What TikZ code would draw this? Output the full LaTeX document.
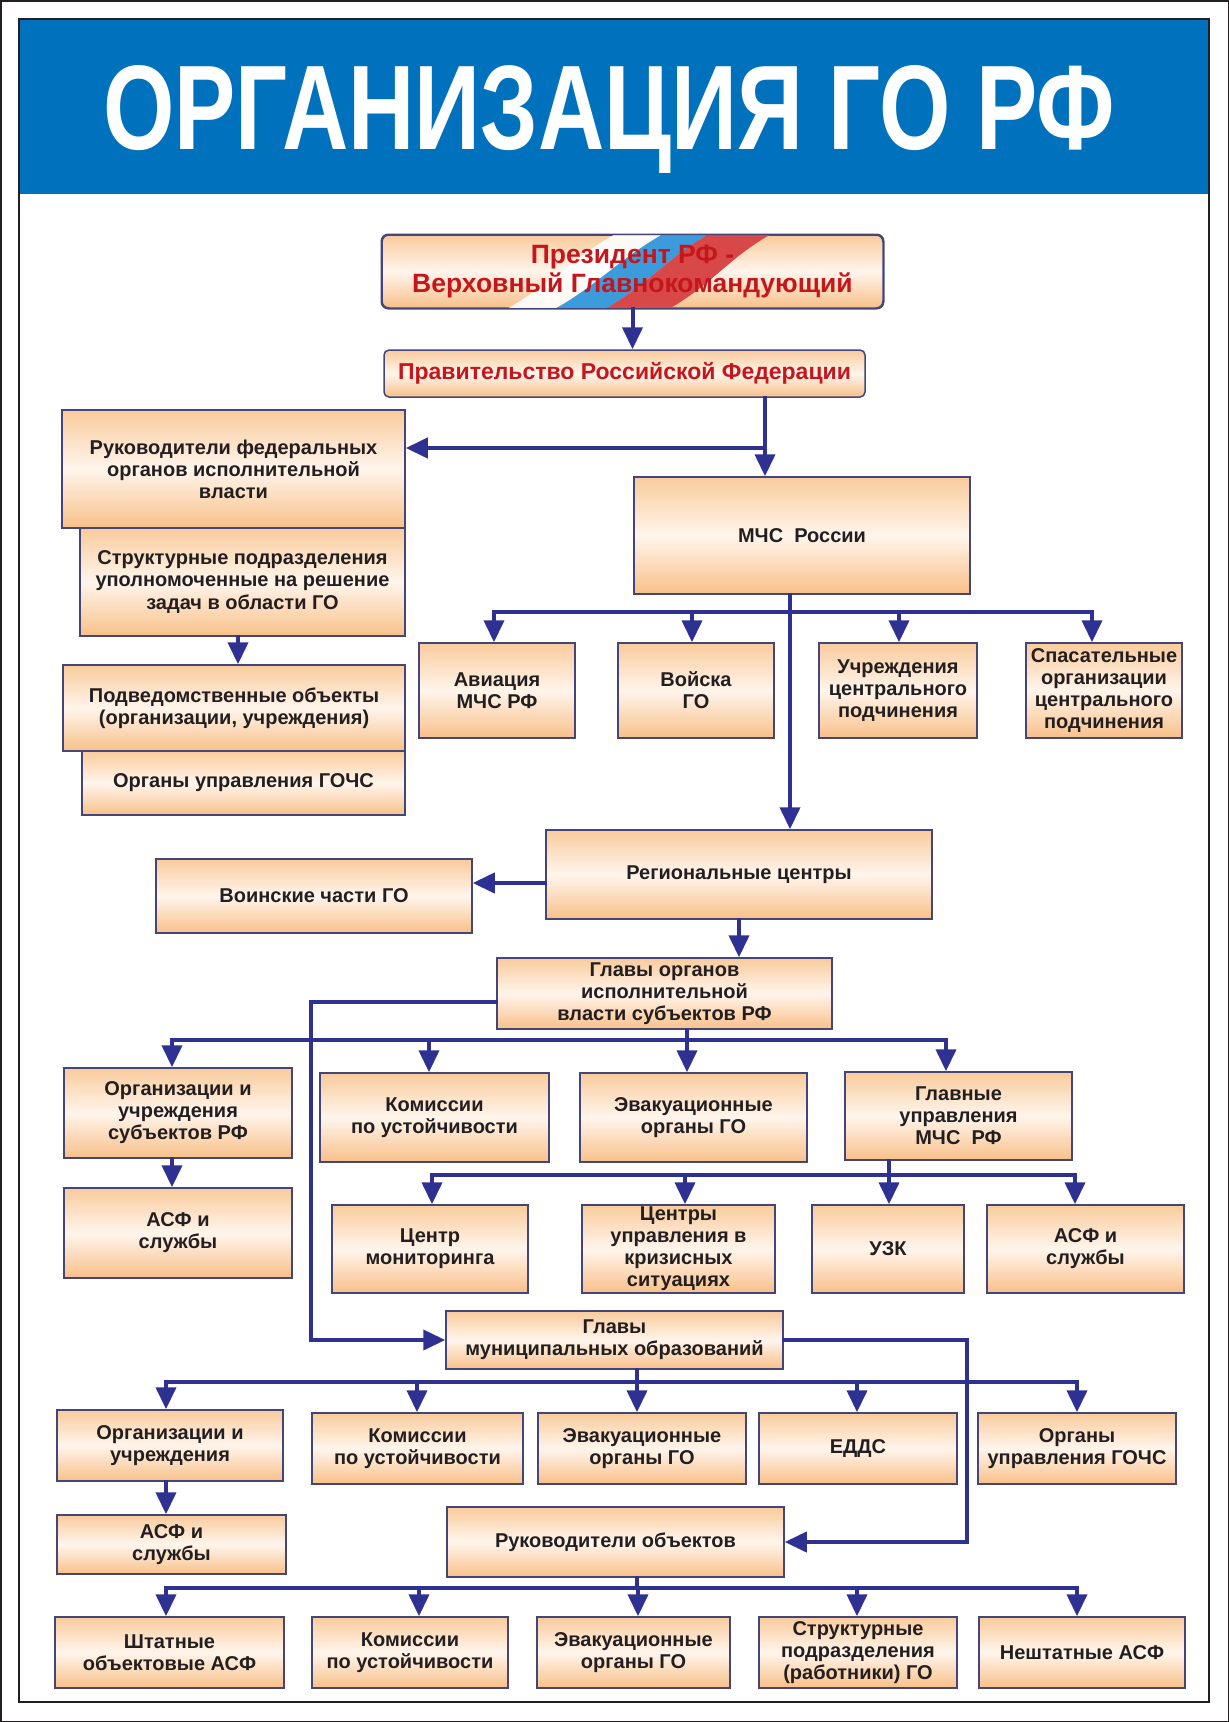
\documentclass[tikz,border=0pt]{standalone}
\usepackage{fontspec}
\usepackage{graphicx}
\setmainfont{Liberation Sans}
\usetikzlibrary{arrows.meta}

\definecolor{titleblue}{HTML}{0071BC}
\definecolor{framecol}{HTML}{231F20}
\definecolor{boxline}{HTML}{44467A}
\definecolor{boxtext}{HTML}{231F20}
\definecolor{arrowblue}{HTML}{2E3192}
\definecolor{peachT}{HTML}{F9CB9C}
\definecolor{peachM}{HTML}{FFF5EC}
\definecolor{peachB}{HTML}{F8C089}
\definecolor{presred}{HTML}{C4161C}
\definecolor{flagblue}{HTML}{3C9BDB}
\definecolor{flagred}{HTML}{D94848}

\tikzset{
  blk/.style={draw=boxline, line width=1.5pt, top color=peachT, bottom color=peachB, middle color=peachM,
    align=center, inner sep=0pt, text=boxtext, font=\fontsize{20}{22}\selectfont\bfseries},
  sz/.style 2 args={minimum width=#1, minimum height=#2},
  line/.style={draw=arrowblue, line width=4pt, line cap=rect},
  arr/.style={line, -{Triangle[width=20pt,length=22pt]}}
}

\begin{document}
\begin{tikzpicture}[x=1pt,y=-1pt]
	\useasboundingbox (0,0) rectangle (1229,1722);
	\draw[framecol, line width=1.5pt] (0.75,0.75) rectangle (1228.25,1721.25);
	\fill[titleblue] (19,19) rectangle (1209,194);
	\draw[framecol, line width=1.2pt] (19,19) rectangle (1209,1702);
	\node[anchor=base west, inner sep=0pt, text=white] (title) at (103,149)
		{\resizebox{1012pt}{84pt}{\fontsize{60}{60}\selectfont\bfseries ОРГАНИЗАЦИЯ ГО РФ}};

	\node[blk, rounded corners=7pt, sz={501pt}{73pt}] (pres) at (632.5,271.5) {};
	\begin{scope}
		\clip[rounded corners=7pt] (pres.south west) rectangle (pres.north east);
		\fill[white, opacity=.9] (505,310) .. controls (550,285) and (572,258) .. (617,233) -- (665,233) .. controls (620,258) and (598,285) .. (553,310) -- cycle;
		\fill[flagblue] (553,310) .. controls (598,285) and (620,258) .. (665,233) -- (711,233) .. controls (666,258) and (648,285) .. (603,310) -- cycle;
		\fill[flagred] (603,310) .. controls (648,285) and (666,258) .. (711,233) -- (773,233) .. controls (728,258) and (712,285) .. (667,310) -- cycle;
	\end{scope}
	\draw[boxline, line width=1.5pt, rounded corners=7pt] (pres.south west) rectangle (pres.north east);
	\node[align=center, text=presred, font=\fontsize{26.5}{29}\selectfont\bfseries] (prestxt) at (pres) {Президент РФ -\\Верховный Главнокомандующий};
	\node[blk, rounded corners=5pt, sz={481pt}{47pt}, text=presred, font=\fontsize{23}{25}\selectfont\bfseries] (gov) at (624.5,373.5) {Правительство Российской Федерации};

	\node[blk, sz={325pt}{108pt}] (struct) at (242.5,582) {Структурные подразделения\\уполномоченные на решение\\задач в области ГО};
	\node[blk, sz={343pt}{118pt}] (ruk) at (233.5,469) {Руководители федеральных\\органов исполнительной\\власти};
	\node[blk, sz={323pt}{64pt}] (organy) at (243.5,783) {Органы управления ГОЧС};
	\node[blk, sz={342pt}{86pt}] (podv) at (234,708) {Подведомственные объекты\\(организации, учреждения)};

	\node[blk, sz={336pt}{117pt}] (mchs) at (802,535.5) {МЧС~~России};
	\node[blk, sz={156pt}{95pt}] (avia) at (497,690.5) {Авиация\\МЧС РФ};
	\node[blk, sz={156pt}{95pt}] (voy) at (696,690.5) {Войска\\ГО};
	\node[blk, sz={158pt}{95pt}] (uchr) at (898,690.5) {Учреждения\\центрального\\подчинения};
	\node[blk, sz={156pt}{95pt}] (spas) at (1104,690.5) {Спасательные\\организации\\центрального\\подчинения};

	\node[blk, sz={386pt}{89pt}] (reg) at (739,874.5) {Региональные центры};
	\node[blk, sz={316pt}{74pt}] (voin) at (314,896) {Воинские части ГО};
	\node[blk, sz={335pt}{71pt}] (glavy) at (664.5,993.5) {Главы органов\\исполнительной\\власти субъектов РФ};

	\node[blk, sz={228pt}{90pt}] (org1) at (178,1113) {Организации и\\учреждения\\субъектов РФ};
	\node[blk, sz={229pt}{89pt}] (kom1) at (434.5,1117.5) {Комиссии\\по устойчивости};
	\node[blk, sz={227pt}{89pt}] (evak1) at (693.5,1117.5) {Эвакуационные\\органы ГО};
	\node[blk, sz={227pt}{88pt}] (glupr) at (958.5,1116) {Главные\\управления\\МЧС~~РФ};
	\node[blk, sz={228pt}{90pt}] (asf1) at (178,1233) {АСФ и\\службы};

	\node[blk, sz={196pt}{88pt}] (cm) at (430,1249) {Центр\\мониторинга};
	\node[blk, sz={193pt}{88pt}] (cu) at (678.5,1249) {Центры\\управления в\\кризисных\\ситуациях};
	\node[blk, sz={152pt}{88pt}] (uzk) at (888,1249) {УЗК};
	\node[blk, sz={197pt}{88pt}] (asf2) at (1085.5,1249) {АСФ и\\службы};

	\node[blk, sz={337pt}{58pt}] (glmun) at (614.5,1340) {Главы\\муниципальных образований};
	\node[blk, sz={226pt}{71pt}] (org2) at (170,1445.5) {Организации и\\учреждения};
	\node[blk, sz={211pt}{71pt}] (kom2) at (417.5,1448.5) {Комиссии\\по устойчивости};
	\node[blk, sz={208pt}{71pt}] (evak2) at (642,1448.5) {Эвакуационные\\органы ГО};
	\node[blk, sz={198pt}{71pt}] (edds) at (858,1448.5) {ЕДДС};
	\node[blk, sz={198pt}{71pt}] (organy2) at (1077,1448.5) {Органы\\управления ГОЧС};
	\node[blk, sz={229pt}{59pt}] (asf3) at (171.5,1544.5) {АСФ и\\службы};
	\node[blk, sz={337pt}{70pt}] (ruko) at (615.5,1542) {Руководители объектов};

	\node[blk, sz={229pt}{71pt}] (sht) at (169.5,1652.5) {Штатные\\объектовые АСФ};
	\node[blk, sz={196pt}{71pt}] (kom3) at (410,1652.5) {Комиссии\\по устойчивости};
	\node[blk, sz={193pt}{71pt}] (evak3) at (633.5,1652.5) {Эвакуационные\\органы ГО};
	\node[blk, sz={198pt}{71pt}] (strukt3) at (858,1652.5) {Структурные\\подразделения\\(работники) ГО};
	\node[blk, sz={206pt}{71pt}] (nesht) at (1082,1652.5) {Нештатные АСФ};

	\draw[arr] (pres.south) -- (pres.south |- gov.north);
	\coordinate (g1) at (765,448);
	\draw[arr] (g1 |- gov.south) -- (g1 |- mchs.north);
	\draw[arr] (g1) -- (g1 -| ruk.east);
	\coordinate (s1) at (238,0);
	\draw[arr] (s1 |- struct.south) -- (s1 |- podv.north);

	\coordinate (m0) at (790,612);
	\draw[arr] (m0 |- mchs.south) -- (m0 |- reg.north);
	\foreach \x/\n in {494/avia,692/voy,899/uchr,1092/spas}
		\draw[arr] (\x,612) coordinate (\n-in) -- (\n-in |- \n.north);
	\draw[line] (avia-in) -- (spas-in);

	\coordinate (r1) at (0,883);
	\draw[arr] (r1 -| reg.west) -- (r1 -| voin.east);
	\draw[arr] (reg.south) -- (reg.south |- glavy.north);

	\coordinate (gl) at (311,1002);
	\draw[arr] (gl -| glavy.west) -- (gl) -- (gl |- glmun.west) -- (glmun.west);
	\coordinate (b2) at (687,1040);
	\draw[line] (b2 |- glavy.south) -- (b2);
	\foreach \x/\n in {172/org1,429/kom1,687/evak1,946/glupr}
		\draw[arr] (\x,1040) coordinate (\n-in) -- (\n-in |- \n.north);
	\draw[line] (org1-in) -- (glupr-in);
	\coordinate (o1) at (172,0);
	\draw[arr] (o1 |- org1.south) -- (o1 |- asf1.north);

	\coordinate (b3) at (889,1175);
	\draw[line] (b3 |- glupr.south) -- (b3);
	\foreach \x/\n in {432/cm,685/cu,889/uzk,1075/asf2}
		\draw[arr] (\x,1175) coordinate (\n-in) -- (\n-in |- \n.north);
	\draw[line] (cm-in) -- (asf2-in);

	\coordinate (gm) at (967,0);
	\draw[arr] (glmun.east) -- (gm |- glmun.east) -- (gm |- ruko.east) -- (ruko.east);
	\coordinate (b4) at (637,1382);
	\draw[line] (b4 |- glmun.south) -- (b4);
	\foreach \x/\n in {166/org2,417/kom2,637/evak2,857/edds,1077/organy2}
		\draw[arr] (\x,1382) coordinate (\n-in) -- (\n-in |- \n.north);
	\draw[line] (org2-in) -- (organy2-in);
	\coordinate (o2) at (166,0);
	\draw[arr] (o2 |- org2.south) -- (o2 |- asf3.north);

	\coordinate (b5) at (637,1588);
	\draw[line] (b5 |- ruko.south) -- (b5);
	\foreach \x/\n in {166/sht,419/kom3,638/evak3,857/strukt3,1077/nesht}
		\draw[arr] (\x,1588) coordinate (\n-in) -- (\n-in |- \n.north);
	\draw[line] (sht-in) -- (nesht-in);
\end{tikzpicture}
\end{document}
